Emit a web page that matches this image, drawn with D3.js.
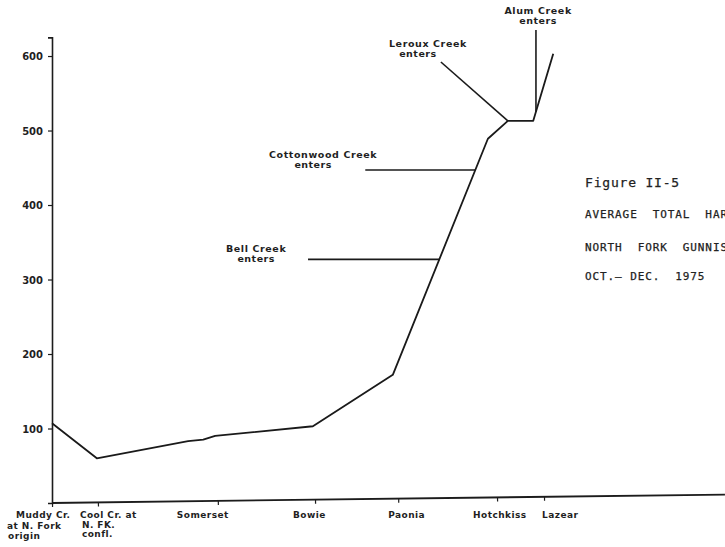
<!DOCTYPE html>
<html>
<head>
<meta charset="utf-8">
<script src="https://cdn.jsdelivr.net/npm/d3@7"></script>
<style>
  html, body { margin: 0; padding: 0; background: #ffffff; }
  svg { display: block; }
  .lbl { font-family: "DejaVu Sans", sans-serif; font-weight: bold; fill: #1f1f1f; }
  .type { font-family: "DejaVu Sans Mono", monospace; fill: #222222; stroke: #222222; stroke-width: 0.25px; }
</style>
</head>
<body>
<svg id="chart" width="725" height="547"></svg>
<script>
// Sampling stations along the North Fork (river miles below the origin)
const stationNames = [
  ["Muddy Cr.", "at N. Fork", "origin"],
  ["Cool Cr. at", "N. FK.", "confl."],
  ["Somerset"],
  ["Bowie"],
  ["Paonia"],
  ["Hotchkiss"],
  ["Lazear"]
];
const stationMiles = [0, 8.5, 30.7, 48.7, 64.1, 82.4, 91.1];

// Hardness profile (mg/l) along the river
const profileMiles = [0, 8.3, 25.2, 28.0, 30.2, 48.3, 63.1, 80.7, 84.4, 89.1, 92.8];
const profileHardness = [107, 60, 83, 85, 90, 103, 172, 489, 513, 513, 603];

const yTicks = [100, 200, 300, 400, 500, 600];

// Tributary inflows: callout start (mile, value) and label anchor (mile, value)
const tribNames = [["Bell Creek", "enters"], ["Cottonwood Creek", "enters"], ["Leroux Creek", "enters"], ["Alum Creek", "enters"]];
const tribFromMile = [47.4, 58.0, 72.0, 89.6];
const tribFromValue = [327, 447, 592, 635];
const tribTextMile = [37.8, 50.2, 69.6, 90.0];
const tribTextValue = [337, 463, 612, 656];

const titleLines = ["Figure II-5", "AVERAGE  TOTAL  HARDNESS", "NORTH  FORK  GUNNISON  RIVER", "OCT.\u2014 DEC.  1975"];

const svg = d3.select("#chart");
const x = d3.scaleLinear().domain([0, 124.6]).range([52, 725]);
const y = d3.scaleLinear().domain([0, 625]).range([503, 37.4]);

// y axis
const yAxis = svg.append("g")
  .attr("transform", `translate(${x(0)},0)`)
  .call(d3.axisLeft(y).tickValues(yTicks).tickSize(4).tickPadding(5).tickFormat(d3.format("d")));
yAxis.select(".domain").attr("stroke", "#1c1c1c").attr("stroke-width", 1.6);
yAxis.selectAll(".tick line").attr("stroke", "#1c1c1c").attr("stroke-width", 1.2);
yAxis.selectAll(".tick text")
  .attr("class", "lbl").style("font-size", "10px").attr("dy", "0.36em");

// x axis (line and ticks; the drafted baseline leans slightly)
const xAxis = svg.append("g")
  .attr("transform", `rotate(-0.72, ${x(0)}, ${y(0)}) translate(0,${y(0)})`)
  .call(d3.axisBottom(x).tickValues(stationMiles).tickSize(4).tickFormat(""));
xAxis.select(".domain").attr("stroke", "#1c1c1c").attr("stroke-width", 1.8)
  .attr("d", `M${x(0)},0H725`);
xAxis.selectAll(".tick line").attr("stroke", "#1c1c1c").attr("stroke-width", 1.2);

// station labels
const labelDx = [-36, -18, -41, -22, -10, -24, -2];
const lineDx = [[0, -9, -8], [0, 2, 2], [0], [0], [0], [0], [0]];
const rowY = [[518, 529, 539], [518, 528, 537]];
stationNames.forEach((lines, i) => {
  lines.forEach((t, j) => {
    svg.append("text").attr("class", "lbl")
      .style("font-size", "9px").style("letter-spacing", "0.45px")
      .attr("x", x(stationMiles[i]) + labelDx[i] + lineDx[i][j])
      .attr("y", (rowY[i] || rowY[0])[j])
      .text(t);
  });
});

// hardness profile
const profile = profileMiles.map((m, i) => [m, profileHardness[i]]);
svg.append("path")
  .datum(profile)
  .attr("fill", "none")
  .attr("stroke", "#1a1a1a")
  .attr("stroke-width", 1.8)
  .attr("stroke-linejoin", "round")
  .attr("d", d3.line().x(d => x(d[0])).y(d => y(d[1])));

// where the profile reaches a given value after a given mile
function mileAtValue(v, after) {
  for (let i = 1; i < profile.length; i++) {
    const [m0, v0] = profile[i - 1], [m1, v1] = profile[i];
    if (m1 < after) continue;
    if ((v - v0) * (v - v1) <= 0 && v0 !== v1) return m0 + (v - v0) / (v1 - v0) * (m1 - m0);
  }
  return null;
}
function valueAtMile(m) {
  for (let i = 1; i < profile.length; i++) {
    const [m0, v0] = profile[i - 1], [m1, v1] = profile[i];
    if (m >= m0 && m <= m1) return v0 + (m - m0) / (m1 - m0) * (v1 - v0);
  }
  return null;
}

// tributary callouts
const tribEnds = [
  [mileAtValue(tribFromValue[0], 60), tribFromValue[0]],
  [mileAtValue(tribFromValue[1], 60), tribFromValue[1]],
  [profileMiles[8], profileHardness[8]],
  [tribFromMile[3], valueAtMile(tribFromMile[3])]
];
tribNames.forEach((lines, i) => {
  svg.append("line")
    .attr("x1", x(tribFromMile[i])).attr("y1", y(tribFromValue[i]))
    .attr("x2", x(tribEnds[i][0])).attr("y2", y(tribEnds[i][1]))
    .attr("stroke", "#1a1a1a").attr("stroke-width", 1.6);
  lines.forEach((t, j) => {
    svg.append("text").attr("class", "lbl")
      .style("font-size", "9.5px").style("letter-spacing", j === 0 ? "0.6px" : "0.5px")
      .attr("text-anchor", "middle")
      .attr("x", x(tribTextMile[i]) - (j === 1 && i === 1 ? 10 : 0) - (j === 1 && i === 2 ? 10 : 0))
      .attr("y", y(tribTextValue[i]) + j * 10)
      .text(t);
  });
});

// figure title block
const titleY = [187, 218, 251, 280];
titleLines.forEach((t, i) => {
  svg.append("text").attr("class", "type")
    .attr("x", 585).attr("y", titleY[i])
    .style("font-size", i === 0 ? "13px" : "11px")
    .style("letter-spacing", i === 0 ? "0.8px" : "0.9px")
    .attr("xml:space", "preserve")
    .style("white-space", "pre")
    .text(t);
});
</script>
</body>
</html>
